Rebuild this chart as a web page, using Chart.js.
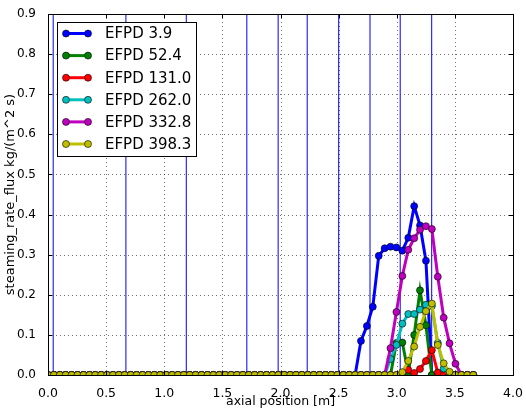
<!DOCTYPE html>
<html>
<head>
<meta charset="utf-8">
<script src="https://cdn.jsdelivr.net/npm/chart.js@4.4.1/dist/chart.umd.min.js"></script>
<style>
  html, body { margin: 0; padding: 0; background: #fff; }
  canvas { display: block; }
</style>
</head>
<body>
<canvas id="grafico" width="526" height="410"></canvas>
<script>
// axial nodes along the rod [m], 2 inch pitch
const axialPos = [
  0.000, 0.051, 0.102, 0.152, 0.203, 0.254, 0.305, 0.356, 0.406, 0.457,
  0.508, 0.559, 0.610, 0.660, 0.711, 0.762, 0.813, 0.864, 0.914, 0.965,
  1.016, 1.067, 1.118, 1.168, 1.219, 1.270, 1.321, 1.372, 1.422, 1.473,
  1.524, 1.575, 1.626, 1.676, 1.727, 1.778, 1.829, 1.880, 1.930, 1.981,
  2.032, 2.083, 2.134, 2.184, 2.235, 2.286, 2.337, 2.388, 2.438, 2.489,
  2.540, 2.591, 2.642, 2.692, 2.743, 2.794, 2.845, 2.896, 2.946, 2.997,
  3.048, 3.099, 3.150, 3.200, 3.251, 3.302, 3.353, 3.404, 3.454, 3.505,
  3.556, 3.607, 3.658
];

// spacer grid elevations [m]
const spacerPos = [0.045, 0.67, 1.19, 1.71, 1.98, 2.23, 2.50, 2.77, 3.03, 3.30];

const xTicks = [0.0, 0.5, 1.0, 1.5, 2.0, 2.5, 3.0, 3.5, 4.0];
const yTicks = [0.0, 0.1, 0.2, 0.3, 0.4, 0.5, 0.6, 0.7, 0.8, 0.9];

const efpdLabels = ["EFPD 3.9", "EFPD 52.4", "EFPD 131.0", "EFPD 262.0", "EFPD 332.8", "EFPD 398.3"];
const efpdColors = ["#0000ff", "#008000", "#ff0000", "#00bfbf", "#bf00bf", "#bfbf00"];

// steaming rate flux per node, kg/(m^2 s)
const flux_3_9 = [
  0, 0, 0, 0, 0, 0, 0, 0, 0, 0,
  0, 0, 0, 0, 0, 0, 0, 0, 0, 0,
  0, 0, 0, 0, 0, 0, 0, 0, 0, 0,
  0, 0, 0, 0, 0, 0, 0, 0, 0, 0,
  0, 0, 0, 0, 0, 0, 0, 0, 0, 0,
  0, 0, 0, 0.085, 0.122, 0.170, 0.297, 0.316, 0.320, 0.318,
  0.310, 0.342, 0.421, 0.373, 0.285, 0, 0, 0, 0, 0,
  0, 0, 0
];
const flux_52_4 = [
  0, 0, 0, 0, 0, 0, 0, 0, 0, 0,
  0, 0, 0, 0, 0, 0, 0, 0, 0, 0,
  0, 0, 0, 0, 0, 0, 0, 0, 0, 0,
  0, 0, 0, 0, 0, 0, 0, 0, 0, 0,
  0, 0, 0, 0, 0, 0, 0, 0, 0, 0,
  0, 0, 0, 0, 0, 0, 0, 0, 0, 0.080,
  0.081, 0.005, 0.100, 0.211, 0.124, 0, 0, 0, 0, 0,
  0, 0, 0
];
const flux_131_0 = [
  0, 0, 0, 0, 0, 0, 0, 0, 0, 0,
  0, 0, 0, 0, 0, 0, 0, 0, 0, 0,
  0, 0, 0, 0, 0, 0, 0, 0, 0, 0,
  0, 0, 0, 0, 0, 0, 0, 0, 0, 0,
  0, 0, 0, 0, 0, 0, 0, 0, 0, 0,
  0, 0, 0, 0, 0, 0, 0, 0, 0, 0,
  0, 0.013, 0.005, 0.015, 0.035, 0.062, 0.006, 0, 0, 0,
  0, 0, 0
];
const flux_262_0 = [
  0, 0, 0, 0, 0, 0, 0, 0, 0, 0,
  0, 0, 0, 0, 0, 0, 0, 0, 0, 0,
  0, 0, 0, 0, 0, 0, 0, 0, 0, 0,
  0, 0, 0, 0, 0, 0, 0, 0, 0, 0,
  0, 0, 0, 0, 0, 0, 0, 0, 0, 0,
  0, 0, 0, 0, 0, 0, 0, 0, 0.040, 0.075,
  0.128, 0.152, 0.152, 0.163, 0.175, 0.172, 0.080, 0.016, 0, 0,
  0, 0, 0
];
const flux_332_8 = [
  0, 0, 0, 0, 0, 0, 0, 0, 0, 0,
  0, 0, 0, 0, 0, 0, 0, 0, 0, 0,
  0, 0, 0, 0, 0, 0, 0, 0, 0, 0,
  0, 0, 0, 0, 0, 0, 0, 0, 0, 0,
  0, 0, 0, 0, 0, 0, 0, 0, 0, 0,
  0, 0, 0, 0, 0, 0, 0, 0, 0.067, 0.157,
  0.247, 0.312, 0.341, 0.362, 0.371, 0.364, 0.245, 0.143, 0.079, 0.028,
  0, 0, 0
];
const flux_398_3 = [
  0, 0, 0, 0, 0, 0, 0, 0, 0, 0,
  0, 0, 0, 0, 0, 0, 0, 0, 0, 0,
  0, 0, 0, 0, 0, 0, 0, 0, 0, 0,
  0, 0, 0, 0, 0, 0, 0, 0, 0, 0,
  0, 0, 0, 0, 0, 0, 0, 0, 0, 0,
  0, 0, 0, 0, 0, 0, 0, 0, 0, 0,
  0.007, 0.035, 0.071, 0.120, 0.159, 0.178, 0.075, 0.029, 0.008, 0,
  0, 0, 0
];

const fluxSeries = [flux_3_9, flux_52_4, flux_131_0, flux_262_0, flux_332_8, flux_398_3];

const FONT = "'DejaVu Sans', sans-serif";

// one line per burnup step, later steps drawn on top
let datasets = fluxSeries.map((vals, k) => ({
  label: efpdLabels[k],
  data: vals.map((v, i) => ({ x: axialPos[i], y: v })),
  borderColor: efpdColors[k],
  backgroundColor: efpdColors[k],
  borderWidth: 3,
  pointRadius: 3.5,
  pointBackgroundColor: efpdColors[k],
  pointBorderColor: "#000",
  pointBorderWidth: 0.6,
  tension: 0,
  order: 10 - k
}));

// spacer grids as thin vertical lines
spacerPos.forEach(z => {
  datasets.push({
    label: "",
    data: [{ x: z, y: 0 }, { x: z, y: 0.9 }],
    borderColor: "#2a2aff",
    borderWidth: 1.2,
    pointRadius: 0,
    order: 20
  });
});

// dotted grid behind the lines
const dottedGrid = {
  id: "dottedGrid",
  beforeDatasetsDraw(chart) {
    const ctx = chart.ctx;
    const a = chart.chartArea;
    const xs = chart.scales.x, ys = chart.scales.y;
    ctx.save();
    ctx.strokeStyle = "rgba(0,0,0,0.55)";
    ctx.lineWidth = 1;
    ctx.setLineDash([1, 3]);
    ctx.beginPath();
    xTicks.forEach(t => {
      const px = Math.round(xs.getPixelForValue(t)) + 0.5;
      ctx.moveTo(px, a.top); ctx.lineTo(px, a.bottom);
    });
    yTicks.forEach(t => {
      const py = Math.round(ys.getPixelForValue(t)) + 0.5;
      ctx.moveTo(a.left, py); ctx.lineTo(a.right, py);
    });
    ctx.stroke();
    ctx.restore();
  }
};

// frame, inward ticks and legend box
const frameLegend = {
  id: "frameLegend",
  afterDraw(chart) {
    const ctx = chart.ctx;
    const a = chart.chartArea;
    const xs = chart.scales.x, ys = chart.scales.y;
    ctx.save();
    ctx.strokeStyle = "#000";
    ctx.lineWidth = 1;
    ctx.beginPath();
    xTicks.forEach(t => {
      const px = Math.round(xs.getPixelForValue(t)) + 0.5;
      ctx.moveTo(px, a.bottom); ctx.lineTo(px, a.bottom - 4);
      ctx.moveTo(px, a.top); ctx.lineTo(px, a.top + 4);
    });
    yTicks.forEach(t => {
      const py = Math.round(ys.getPixelForValue(t)) + 0.5;
      ctx.moveTo(a.left, py); ctx.lineTo(a.left + 4, py);
      ctx.moveTo(a.right, py); ctx.lineTo(a.right - 4, py);
    });
    ctx.stroke();
    ctx.strokeRect(Math.round(a.left) + 0.5, Math.round(a.top) + 0.5,
      Math.round(a.right - a.left), Math.round(a.bottom - a.top));

    // legend
    const bx = 57.5, by = 22.5, bw = 139, bh = 134;
    ctx.fillStyle = "#fff";
    ctx.fillRect(bx, by, bw, bh);
    ctx.strokeRect(bx, by, bw, bh);
    ctx.font = "15px " + FONT;
    ctx.textBaseline = "middle";
    efpdLabels.forEach((lab, k) => {
      const y = 33.5 + k * 22.1;
      ctx.strokeStyle = efpdColors[k];
      ctx.lineWidth = 3;
      ctx.beginPath();
      ctx.moveTo(66, y); ctx.lineTo(88, y);
      ctx.stroke();
      [66, 88].forEach(px => {
        ctx.beginPath();
        ctx.arc(px, y, 3.5, 0, Math.PI * 2);
        ctx.fillStyle = efpdColors[k];
        ctx.fill();
        ctx.lineWidth = 0.6;
        ctx.strokeStyle = "#000";
        ctx.stroke();
      });
      ctx.fillStyle = "#000";
      ctx.fillText(lab, 105, y + 1);
    });
    ctx.restore();
  }
};

const ctx = document.getElementById("grafico").getContext("2d");
new Chart(ctx, {
  type: "line",
  data: { datasets },
  options: {
    responsive: false,
    animation: false,
    devicePixelRatio: 1,
    layout: { padding: { left: 3, top: 14, right: 13, bottom: 0 } },
    plugins: {
      legend: { display: false },
      tooltip: { enabled: false }
    },
    scales: {
      x: {
        type: "linear",
        min: 0,
        max: 4,
        afterBuildTicks: s => { s.ticks = xTicks.map(v => ({ value: v })); },
        afterFit: s => { s.height = 35; },
        ticks: {
          color: "#000",
          font: { family: FONT, size: 12.5 },
          padding: 3,
          callback: v => v.toFixed(1)
        },
        grid: { display: false },
        border: { display: false },
        title: {
          display: true,
          text: "axial position [m]",
          color: "#000",
          font: { family: FONT, size: 12.5 },
          padding: { top: 0, bottom: 1 }
        }
      },
      y: {
        min: 0,
        max: 0.9,
        afterBuildTicks: s => { s.ticks = yTicks.map(v => ({ value: v })); },
        afterFit: s => { s.width = 45; },
        ticks: {
          color: "#000",
          font: { family: FONT, size: 12 },
          padding: 4,
          callback: v => v.toFixed(1)
        },
        grid: { display: false },
        border: { display: false },
        title: {
          display: true,
          text: "steaming_rate_flux kg/(m^2 s)",
          color: "#000",
          font: { family: FONT, size: 13 },
          padding: { top: 0, bottom: 0 }
        }
      }
    }
  },
  plugins: [dottedGrid, frameLegend]
});
</script>
</body>
</html>
